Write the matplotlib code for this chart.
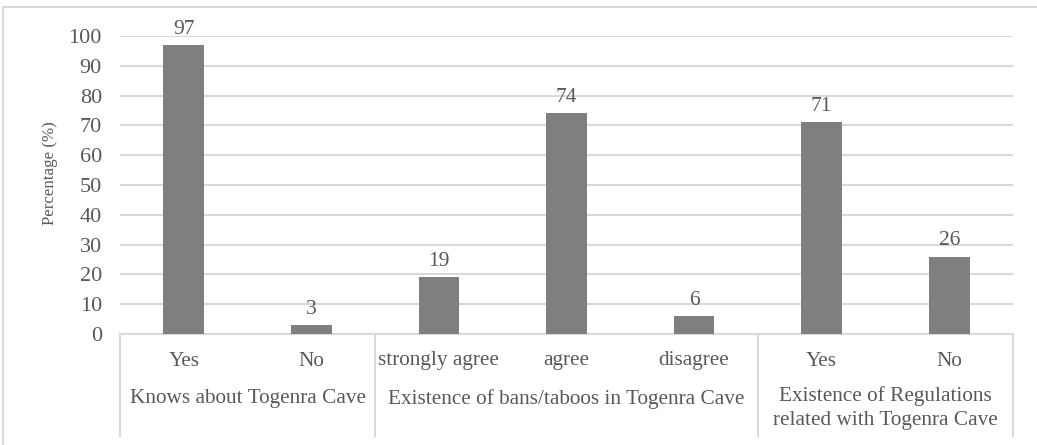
import matplotlib
matplotlib.use("Agg")
import matplotlib.pyplot as plt
from matplotlib.lines import Line2D
from matplotlib.patches import Rectangle
import matplotlib.transforms as mtransforms

# Survey responses (percent of respondents)
categories = ["Yes", "No", "strongly agree", "agree", "disagree", "Yes", "No"]
values = [97, 3, 19, 74, 6, 71, 26]
groups = ["Knows about Togenra Cave",
          "Existence of bans/taboos in Togenra Cave",
          "Existence of Regulations\nrelated with Togenra Cave"]
group_sizes = [2, 3, 2]
yticks = [0, 10, 20, 30, 40, 50, 60, 70, 80, 90, 100]

plt.rcParams["font.family"] = ["Liberation Serif", "DejaVu Serif"]
TXT = "#595959"
GRID = "#d9d9d9"
BAR = "#7f7f7f"

W, H = 1037, 445
fig = plt.figure(figsize=(W / 100, H / 100), dpi=100)
ax = fig.add_axes([120 / W, 1 - 334 / H, (1013 - 120) / W, (334 - 36) / H])

x = list(range(len(categories)))
ax.bar(x, values, width=0.32, color=BAR, zorder=3)
for xi, v in zip(x, values):
    ax.annotate(f"{v}", (xi, v), xytext=(0, 4.5), textcoords="offset points",
                ha="center", va="bottom", fontsize=15.5, color=TXT,
                annotation_clip=False)

ax.set_xlim(-0.5, len(categories) - 0.5)
ax.set_ylim(0, 100)
ax.set_yticks(yticks)
ax.yaxis.grid(True, color=GRID, linewidth=1.5, zorder=0)
ax.set_axisbelow(True)
for s in ["top", "right", "left"]:
    ax.spines[s].set_visible(False)
ax.spines["bottom"].set_color(GRID)
ax.spines["bottom"].set_linewidth(1.5)
ax.tick_params(axis="y", length=0, labelsize=16, labelcolor=TXT, pad=13)
ax.set_xticks([])

fig.text(50 / W, 1 - 173 / H, "Percentage (%)", rotation=90, ha="center",
         va="center", fontsize=12.2, color=TXT)

# category and group labels beneath the axis
trans = mtransforms.blended_transform_factory(ax.transData, fig.transFigure)
for xi, c in zip(x, categories):
    ax.text(xi, 1 - 361 / H, c, transform=trans, ha="center", va="center",
            fontsize=15.3, color=TXT)

start = -0.5
bounds = [start]
for gname, n in zip(groups, group_sizes):
    center = start + n / 2
    ypix = 408 if "\n" in gname else 399
    ax.text(center, 1 - ypix / H, gname, transform=trans, ha="center",
            va="center", fontsize=15.3, color=TXT, linespacing=1.4)
    start += n
    bounds.append(start)

for b in bounds:
    ax.add_line(Line2D([b, b], [1 - 334 / H, 1 - 436 / H], transform=trans,
                       color=GRID, linewidth=1.5, clip_on=False))

# outer frame
fig.patches.append(Rectangle((3 / W, -0.05), 1.1, 1 - 7 / H + 0.05,
                             transform=fig.transFigure, fill=False,
                             edgecolor=GRID, linewidth=1.5))

fig.savefig("out.png", dpi=100)
